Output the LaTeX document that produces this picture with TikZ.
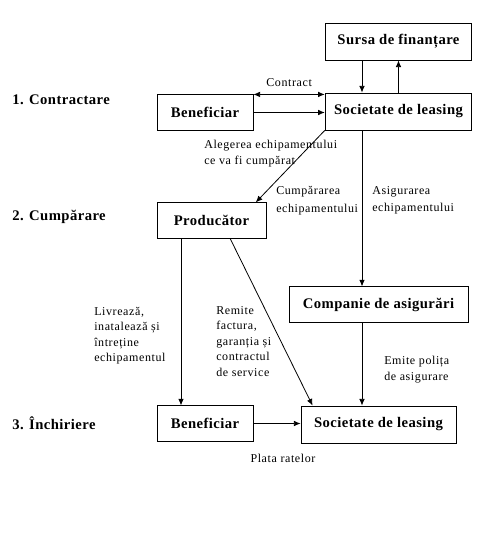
\documentclass[tikz,border=0pt]{standalone}
\usepackage{fontspec}
\setmainfont{Liberation Serif}
\newfontfamily\notefont[LetterSpace=5]{Liberation Serif}
\newfontfamily\boxfont[LetterSpace=3]{Liberation Serif}
\usepackage{tikz}
\usetikzlibrary{arrows.meta,positioning,calc}

\begin{document}
\begin{tikzpicture}[x=0.75pt, y=-0.75pt,
    block/.style={draw, line width=0.6pt, inner sep=2pt,
      minimum height=26.5pt, align=center, font=\boxfont\fontsize{11}{13}\selectfont\bfseries},
    stage/.style={anchor=west, inner sep=0pt, font=\boxfont\fontsize{11}{13}\selectfont\bfseries},
    note/.style={anchor=north west, inner sep=0pt, align=left,
      font=\notefont\fontsize{9}{11.6}\selectfont},
    arr/.style={-{Latex[length=5pt, width=4.2pt]}, line width=0.6pt},
    darr/.style={{Latex[length=5pt, width=4.2pt]}-{Latex[length=5pt, width=4.2pt]}, line width=0.6pt}
]
\useasboundingbox (0,0) rectangle (485,540);

% --- Etape ---
\node[stage] (st1) at (12,100) {1. Contractare};
\node[stage] (st2) at (12,217) {2. Cumpărare};
\node[stage] (st3) at (12,423) {3. Închiriere};

% --- Blocuri ---
\node[block, minimum width=110pt, minimum height=27.75pt] (sursa) at (398.5,41.5) {Sursa de finanțare};
\node[block, minimum width=110pt, minimum height=27.75pt] (soc1) at (398.5,111.5) {Societate de leasing};
\node[block, minimum width=72pt] (ben1) at (205,112.5) {Beneficiar};
\node[block, minimum width=81.75pt] (prod) at (211.5,220.5) {Producător};
\node[block, minimum width=134.25pt] (comp) at (378.5,304.5) {Companie de asigurări};
\node[block, minimum width=72pt] (ben3) at (205,423.5) {Beneficiar};
\node[block, minimum width=116.25pt, minimum height=27.75pt] (soc3) at (378.5,424.5) {Societate de leasing};

% --- Coloane pentru săgeți verticale ---
\coordinate (colA) at (362,0);
\coordinate (colB) at (181,0);

% --- Finanțare ---
\draw[arr] (sursa.south -| colA) -- (soc1.north -| colA);
\draw[arr] (soc1.north) -- (sursa.south);

% --- Contractare ---
\draw[darr] (ben1.north east) -- (ben1.north east -| soc1.west)
      node[midway, above=2pt, font=\notefont\fontsize{9}{10}\selectfont] (lcontract) {Contract};
\draw[arr] (ben1.east) -- (ben1.east -| soc1.west);

% --- Cumpărare ---
\draw[arr] (soc1.south west) -- ([xshift=-8pt]prod.north east);
\draw[arr] (soc1.south -| colA) -- (comp.north -| colA);
\node[note] (lalegere) at (204,140) {Alegerea echipamentului\\ce va fi cumpărat};
\node[note, font=\notefont\fontsize{9}{13.3}\selectfont] (lcump) at (276,186) {Cumpărarea\\echipamentului};
\node[note, font=\notefont\fontsize{9}{13.3}\selectfont] (lasig) at (372,186) {Asigurarea\\echipamentului};

% --- Livrare ---
\draw[arr] (prod.south -| colB) -- (ben3.north -| colB);
\draw[arr] ([xshift=14pt]prod.south) -- ([xshift=9pt]soc3.north west);
\draw[arr] (comp.south -| colA) -- (soc3.north -| colA);
\node[note] (llivr) at (94,307) {Livrează,\\inatalează și\\întreține\\echipamentul};
\node[note] (lremite) at (216,306) {Remite\\factura,\\garanția și\\contractul\\de service};
\node[note] (lemite) at (384,356) {Emite polița\\de asigurare};

% --- Închiriere ---
\draw[arr] (ben3.east) -- (ben3.east -| soc3.west);
\node[font=\notefont\fontsize{9}{10}\selectfont] (lplata) at (283,458) {Plata ratelor};
\end{tikzpicture}
\end{document}
